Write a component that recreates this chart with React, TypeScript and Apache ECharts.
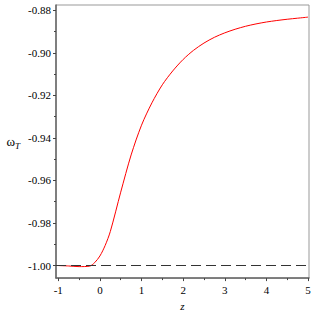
import React, { useEffect, useRef } from "react";
import * as echarts from "echarts";

const zValues = [-1, -0.75, -0.5, -0.25, -0.125, 0, 0.125, 0.25, 0.5, 0.75, 1.0, 1.25, 1.5, 1.75, 2.0, 2.25, 2.5, 2.75, 3.0, 3.25, 3.5, 3.75, 4.0, 4.25, 4.5, 4.75, 5.0];
const omegaValues = [-1.0, -1.0002, -1.0005, -1.0003, -0.9986, -0.9955, -0.9906, -0.984, -0.9655, -0.948, -0.934, -0.9235, -0.915, -0.9085, -0.9031, -0.8988, -0.8954, -0.8927, -0.8906, -0.8889, -0.8875, -0.8864, -0.8855, -0.8848, -0.8842, -0.8837, -0.8832];
const xMajorTicks = [-1, 0, 1, 2, 3, 4, 5];
const xMinorTicks = [-0.5, 0.5, 1.5, 2.5, 3.5, 4.5];
const yMajorTicks = [-1.0, -0.98, -0.96, -0.94, -0.92, -0.9, -0.88];
const yMinorTicks = [-0.99, -0.97, -0.95, -0.93, -0.91, -0.89];
const referenceLevel = -1;

const X_MIN = -1.055;
const X_MAX = 5.024;
const Y_MIN = -1.0059;
const Y_MAX = -0.8775;

const FONT = "Liberation Serif";

export default function App() {
  const ref = useRef<HTMLDivElement>(null);
  useEffect(() => {
    if (!ref.current) return;
    const chart = echarts.init(ref.current, null, { renderer: "svg" });
    const data = zValues.map((z, i) => [z, omegaValues[i]]);
    chart.setOption({
      animation: false,
      backgroundColor: "#fff",
      grid: {
        left: 56,
        right: 7,
        top: 5,
        bottom: 32.5,
        show: true,
        borderColor: "#999",
        borderWidth: 1,
        backgroundColor: "transparent",
      },
      xAxis: [
        {
          type: "value",
          min: X_MIN,
          max: X_MAX,
          position: "bottom",
          name: "z",
          nameLocation: "middle",
          nameGap: 17,
          nameTextStyle: { fontFamily: FONT, fontSize: 11, fontStyle: "italic", color: "#000" },
          axisLine: { show: true, onZero: false, lineStyle: { color: "#666", width: 1.5 } },
          axisTick: { show: true, inside: false, length: 3, customValues: xMajorTicks, lineStyle: { color: "#444" } },
          axisLabel: {
            customValues: xMajorTicks,
            fontFamily: FONT,
            fontSize: 11,
            color: "#000",
            margin: 6,
            formatter: (v: number) => String(v),
          },
          splitLine: { show: false },
        },
        {
          type: "value",
          min: X_MIN,
          max: X_MAX,
          position: "bottom",
          axisLine: { show: false, onZero: false },
          axisTick: { show: true, length: 2, customValues: xMinorTicks, lineStyle: { color: "#444" } },
          axisLabel: { show: false },
          splitLine: { show: false },
        },
      ],
      yAxis: [
        {
          type: "value",
          min: Y_MIN,
          max: Y_MAX,
          position: "left",
          name: "{w|ω}{t|T}",
          nameLocation: "middle",
          nameRotate: 0,
          nameGap: 36,
          nameTextStyle: {
            rich: {
              w: { fontFamily: FONT, fontSize: 13, color: "#000" },
              t: { fontFamily: FONT, fontSize: 9, fontStyle: "italic", color: "#000", padding: [9, 0, 0, 0] },
            },
          },
          axisLine: { show: true, onZero: false, lineStyle: { color: "#666", width: 1.5 } },
          axisTick: { show: true, inside: false, length: 3, customValues: yMajorTicks, lineStyle: { color: "#444" } },
          axisLabel: {
            customValues: yMajorTicks,
            fontFamily: FONT,
            fontSize: 11,
            color: "#000",
            margin: 5,
            formatter: (v: number) => v.toFixed(2),
          },
          splitLine: { show: false },
        },
        {
          type: "value",
          min: Y_MIN,
          max: Y_MAX,
          position: "left",
          axisLine: { show: false, onZero: false },
          axisTick: { show: true, length: 2, customValues: yMinorTicks, lineStyle: { color: "#444" } },
          axisLabel: { show: false },
          splitLine: { show: false },
        },
      ],
      series: [
        {
          type: "line",
          data,
          smooth: 0.3,
          showSymbol: false,
          lineStyle: { color: "#ff0000", width: 1 },
          markLine: {
            silent: true,
            symbol: "none",
            label: { show: false },
            lineStyle: { color: "#333", type: [10, 5], width: 1.2 },
            data: [{ yAxis: referenceLevel }],
          },
          z: 3,
        },
      ],
    });
    return () => chart.dispose();
  }, []);
  return <div ref={ref} style={{ width: 316, height: 316, position: "absolute", left: 0, top: 0 }} />;
}
